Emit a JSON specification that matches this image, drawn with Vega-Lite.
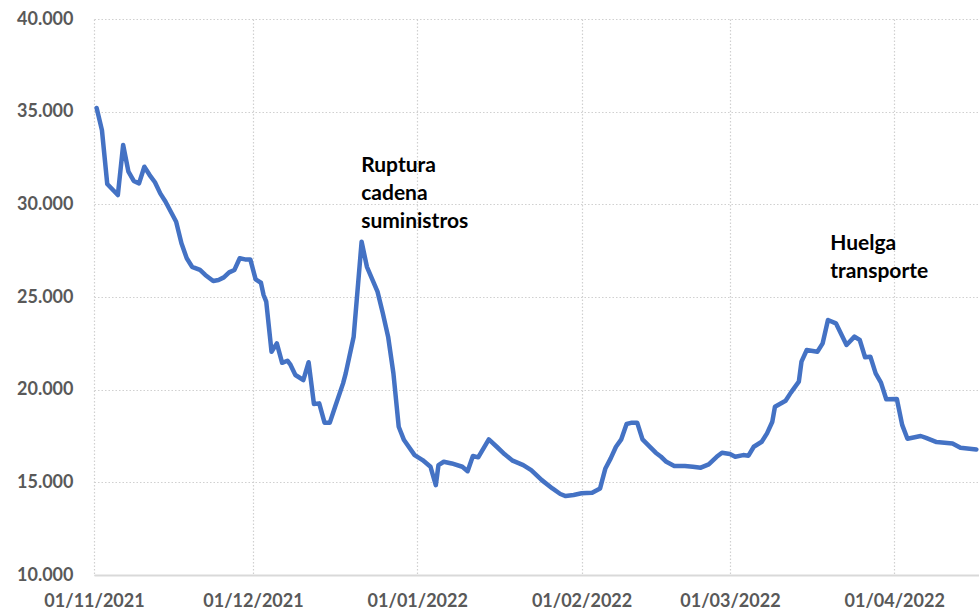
{
  "$schema": "https://vega.github.io/schema/vega-lite/v6.json",
  "width": 885,
  "height": 556,
  "autosize": "none",
  "padding": {"left": 94, "top": 19, "right": 0, "bottom": 39},
  "background": "white",
  "config": {
    "view": {"stroke": null},
    "font": "Lato",
    "axis": {
      "labelFont": "Lato",
      "labelFontWeight": "bold",
      "labelFontSize": 18,
      "labelColor": "#595959",
      "gridColor": "#d0d0d0",
      "gridDash": [1.5, 2],
      "gridWidth": 1.2,
      "ticks": false,
      "title": null
    }
  },
  "datasets": {
    "serie": [
      {"fecha": "2021-11-01T12:00:00Z", "valor": 35200},
      {"fecha": "2021-11-02T12:00:00Z", "valor": 34000},
      {"fecha": "2021-11-03T12:00:00Z", "valor": 31100},
      {"fecha": "2021-11-04T00:00:00Z", "valor": 30950},
      {"fecha": "2021-11-05T12:00:00Z", "valor": 30500},
      {"fecha": "2021-11-06T12:00:00Z", "valor": 33200},
      {"fecha": "2021-11-07T12:00:00Z", "valor": 31760},
      {"fecha": "2021-11-08T12:00:00Z", "valor": 31260},
      {"fecha": "2021-11-09T12:00:00Z", "valor": 31130},
      {"fecha": "2021-11-10T12:00:00Z", "valor": 32030},
      {"fecha": "2021-11-11T12:00:00Z", "valor": 31580},
      {"fecha": "2021-11-12T12:00:00Z", "valor": 31190},
      {"fecha": "2021-11-13T12:00:00Z", "valor": 30590},
      {"fecha": "2021-11-14T12:00:00Z", "valor": 30140},
      {"fecha": "2021-11-15T12:00:00Z", "valor": 29600},
      {"fecha": "2021-11-16T12:00:00Z", "valor": 29060},
      {"fecha": "2021-11-17T12:00:00Z", "valor": 27900},
      {"fecha": "2021-11-18T12:00:00Z", "valor": 27090},
      {"fecha": "2021-11-19T12:00:00Z", "valor": 26630},
      {"fecha": "2021-11-21T00:00:00Z", "valor": 26460},
      {"fecha": "2021-11-22T00:00:00Z", "valor": 26190},
      {"fecha": "2021-11-23T12:00:00Z", "valor": 25860},
      {"fecha": "2021-11-24T12:00:00Z", "valor": 25920},
      {"fecha": "2021-11-25T12:00:00Z", "valor": 26060},
      {"fecha": "2021-11-26T12:00:00Z", "valor": 26330},
      {"fecha": "2021-11-27T12:00:00Z", "valor": 26460},
      {"fecha": "2021-11-28T12:00:00Z", "valor": 27090},
      {"fecha": "2021-11-29T12:00:00Z", "valor": 27030},
      {"fecha": "2021-11-30T12:00:00Z", "valor": 27030},
      {"fecha": "2021-12-01T12:00:00Z", "valor": 25950},
      {"fecha": "2021-12-02T12:00:00Z", "valor": 25770},
      {"fecha": "2021-12-03T00:00:00Z", "valor": 25110},
      {"fecha": "2021-12-03T12:00:00Z", "valor": 24750},
      {"fecha": "2021-12-04T12:00:00Z", "valor": 22050},
      {"fecha": "2021-12-05T12:00:00Z", "valor": 22500},
      {"fecha": "2021-12-06T12:00:00Z", "valor": 21450},
      {"fecha": "2021-12-07T12:00:00Z", "valor": 21560},
      {"fecha": "2021-12-08T00:00:00Z", "valor": 21380},
      {"fecha": "2021-12-09T00:00:00Z", "valor": 20790},
      {"fecha": "2021-12-10T12:00:00Z", "valor": 20520},
      {"fecha": "2021-12-11T12:00:00Z", "valor": 21480},
      {"fecha": "2021-12-12T12:00:00Z", "valor": 19230},
      {"fecha": "2021-12-13T12:00:00Z", "valor": 19260},
      {"fecha": "2021-12-14T12:00:00Z", "valor": 18220},
      {"fecha": "2021-12-15T12:00:00Z", "valor": 18220},
      {"fecha": "2021-12-16T12:00:00Z", "valor": 19080},
      {"fecha": "2021-12-18T00:00:00Z", "valor": 20340},
      {"fecha": "2021-12-18T12:00:00Z", "valor": 20880},
      {"fecha": "2021-12-20T00:00:00Z", "valor": 22860},
      {"fecha": "2021-12-21T12:00:00Z", "valor": 27980},
      {"fecha": "2021-12-22T12:00:00Z", "valor": 26630},
      {"fecha": "2021-12-24T12:00:00Z", "valor": 25290},
      {"fecha": "2021-12-25T12:00:00Z", "valor": 24120},
      {"fecha": "2021-12-26T12:00:00Z", "valor": 22860},
      {"fecha": "2021-12-27T12:00:00Z", "valor": 20880},
      {"fecha": "2021-12-28T12:00:00Z", "valor": 18000},
      {"fecha": "2021-12-29T12:00:00Z", "valor": 17280},
      {"fecha": "2021-12-31T12:00:00Z", "valor": 16470},
      {"fecha": "2022-01-02T00:00:00Z", "valor": 16200},
      {"fecha": "2022-01-03T12:00:00Z", "valor": 15840},
      {"fecha": "2022-01-04T12:00:00Z", "valor": 14850},
      {"fecha": "2022-01-05T00:00:00Z", "valor": 15930},
      {"fecha": "2022-01-06T00:00:00Z", "valor": 16110},
      {"fecha": "2022-01-07T12:00:00Z", "valor": 16020},
      {"fecha": "2022-01-09T12:00:00Z", "valor": 15840},
      {"fecha": "2022-01-10T12:00:00Z", "valor": 15600},
      {"fecha": "2022-01-11T12:00:00Z", "valor": 16420},
      {"fecha": "2022-01-12T12:00:00Z", "valor": 16350},
      {"fecha": "2022-01-14T12:00:00Z", "valor": 17320},
      {"fecha": "2022-01-16T00:00:00Z", "valor": 16920},
      {"fecha": "2022-01-17T12:00:00Z", "valor": 16510},
      {"fecha": "2022-01-19T00:00:00Z", "valor": 16170},
      {"fecha": "2022-01-21T00:00:00Z", "valor": 15930},
      {"fecha": "2022-01-22T12:00:00Z", "valor": 15660},
      {"fecha": "2022-01-24T12:00:00Z", "valor": 15120},
      {"fecha": "2022-01-26T12:00:00Z", "valor": 14670},
      {"fecha": "2022-01-28T00:00:00Z", "valor": 14370},
      {"fecha": "2022-01-29T00:00:00Z", "valor": 14260},
      {"fecha": "2022-01-30T12:00:00Z", "valor": 14320},
      {"fecha": "2022-02-01T00:00:00Z", "valor": 14410},
      {"fecha": "2022-02-03T00:00:00Z", "valor": 14440},
      {"fecha": "2022-02-04T12:00:00Z", "valor": 14670},
      {"fecha": "2022-02-05T12:00:00Z", "valor": 15750},
      {"fecha": "2022-02-06T12:00:00Z", "valor": 16290},
      {"fecha": "2022-02-07T12:00:00Z", "valor": 16920},
      {"fecha": "2022-02-08T12:00:00Z", "valor": 17320},
      {"fecha": "2022-02-09T12:00:00Z", "valor": 18150},
      {"fecha": "2022-02-10T12:00:00Z", "valor": 18220},
      {"fecha": "2022-02-11T12:00:00Z", "valor": 18220},
      {"fecha": "2022-02-12T12:00:00Z", "valor": 17320},
      {"fecha": "2022-02-14T00:00:00Z", "valor": 16890},
      {"fecha": "2022-02-15T00:00:00Z", "valor": 16600},
      {"fecha": "2022-02-16T00:00:00Z", "valor": 16380},
      {"fecha": "2022-02-17T00:00:00Z", "valor": 16110},
      {"fecha": "2022-02-18T12:00:00Z", "valor": 15880},
      {"fecha": "2022-02-20T12:00:00Z", "valor": 15880},
      {"fecha": "2022-02-22T00:00:00Z", "valor": 15840},
      {"fecha": "2022-02-23T12:00:00Z", "valor": 15790},
      {"fecha": "2022-02-25T00:00:00Z", "valor": 15970},
      {"fecha": "2022-02-26T12:00:00Z", "valor": 16380},
      {"fecha": "2022-02-27T12:00:00Z", "valor": 16600},
      {"fecha": "2022-03-01T00:00:00Z", "valor": 16530},
      {"fecha": "2022-03-02T00:00:00Z", "valor": 16380},
      {"fecha": "2022-03-03T12:00:00Z", "valor": 16470},
      {"fecha": "2022-03-04T12:00:00Z", "valor": 16440},
      {"fecha": "2022-03-05T12:00:00Z", "valor": 16920},
      {"fecha": "2022-03-07T00:00:00Z", "valor": 17190},
      {"fecha": "2022-03-08T00:00:00Z", "valor": 17640},
      {"fecha": "2022-03-09T00:00:00Z", "valor": 18270},
      {"fecha": "2022-03-09T12:00:00Z", "valor": 19080},
      {"fecha": "2022-03-11T12:00:00Z", "valor": 19400},
      {"fecha": "2022-03-12T12:00:00Z", "valor": 19840},
      {"fecha": "2022-03-14T00:00:00Z", "valor": 20430},
      {"fecha": "2022-03-14T12:00:00Z", "valor": 21510},
      {"fecha": "2022-03-15T12:00:00Z", "valor": 22140},
      {"fecha": "2022-03-17T12:00:00Z", "valor": 22050},
      {"fecha": "2022-03-18T12:00:00Z", "valor": 22500},
      {"fecha": "2022-03-19T12:00:00Z", "valor": 23760},
      {"fecha": "2022-03-21T00:00:00Z", "valor": 23580},
      {"fecha": "2022-03-23T00:00:00Z", "valor": 22410},
      {"fecha": "2022-03-24T12:00:00Z", "valor": 22860},
      {"fecha": "2022-03-25T12:00:00Z", "valor": 22680},
      {"fecha": "2022-03-26T12:00:00Z", "valor": 21750},
      {"fecha": "2022-03-27T12:00:00Z", "valor": 21780},
      {"fecha": "2022-03-28T12:00:00Z", "valor": 20880},
      {"fecha": "2022-03-29T12:00:00Z", "valor": 20380},
      {"fecha": "2022-03-30T12:00:00Z", "valor": 19480},
      {"fecha": "2022-04-01T12:00:00Z", "valor": 19500},
      {"fecha": "2022-04-02T12:00:00Z", "valor": 18100},
      {"fecha": "2022-04-03T12:00:00Z", "valor": 17350},
      {"fecha": "2022-04-06T00:00:00Z", "valor": 17500},
      {"fecha": "2022-04-07T00:00:00Z", "valor": 17400},
      {"fecha": "2022-04-09T00:00:00Z", "valor": 17170},
      {"fecha": "2022-04-12T00:00:00Z", "valor": 17100},
      {"fecha": "2022-04-13T12:00:00Z", "valor": 16870},
      {"fecha": "2022-04-16T12:00:00Z", "valor": 16770}
    ],
    "notas": [
      {"fecha": "2021-12-21T10:00:00Z", "valor": 31760, "texto": "Ruptura\ncadena\nsuministros"},
      {"fecha": "2022-03-19T22:00:00Z", "valor": 27540, "texto": "Huelga\ntransporte"}
    ]
  },
  "encoding": {
    "x": {
      "field": "fecha",
      "type": "temporal",
      "scale": {
        "type": "utc",
        "domain": [
          {"year": 2021, "month": 11, "date": 1, "utc": true},
          {"year": 2022, "month": 4, "date": 17, "utc": true}
        ]
      },
      "axis": {
        "values": [
          {"year": 2021, "month": 11, "date": 1, "utc": true},
          {"year": 2021, "month": 12, "date": 1, "utc": true},
          {"year": 2022, "month": 1, "date": 1, "utc": true},
          {"year": 2022, "month": 2, "date": 1, "utc": true},
          {"year": 2022, "month": 3, "date": 1, "utc": true},
          {"year": 2022, "month": 4, "date": 1, "utc": true}
        ],
        "format": "%d/%m/%Y",
        "labelPadding": 17,
        "labelOverlap": false,
        "labelFlush": false,
        "domain": true,
        "domainColor": "#d9d9d9",
        "domainWidth": 2
      }
    },
    "y": {
      "field": "valor",
      "type": "quantitative",
      "scale": {"domain": [10000, 40000], "nice": false, "zero": false},
      "axis": {
        "values": [10000, 15000, 20000, 25000, 30000, 35000, 40000],
        "labelExpr": "replace(format(datum.value, ',.0f'), ',', '.')",
        "labelPadding": 21,
        "domain": false
      }
    }
  },
  "layer": [
    {
      "data": {"name": "serie"},
      "mark": {"type": "line", "color": "#4472C4", "strokeWidth": 4.5, "strokeJoin": "round", "strokeCap": "round"}
    },
    {
      "data": {"name": "notas"},
      "mark": {"type": "text", "align": "left", "baseline": "alphabetic", "lineBreak": "\n", "lineHeight": 28, "font": "Lato", "fontWeight": "bold", "fontSize": 21, "color": "#000000"},
      "encoding": {"text": {"field": "texto"}}
    }
  ]
}
